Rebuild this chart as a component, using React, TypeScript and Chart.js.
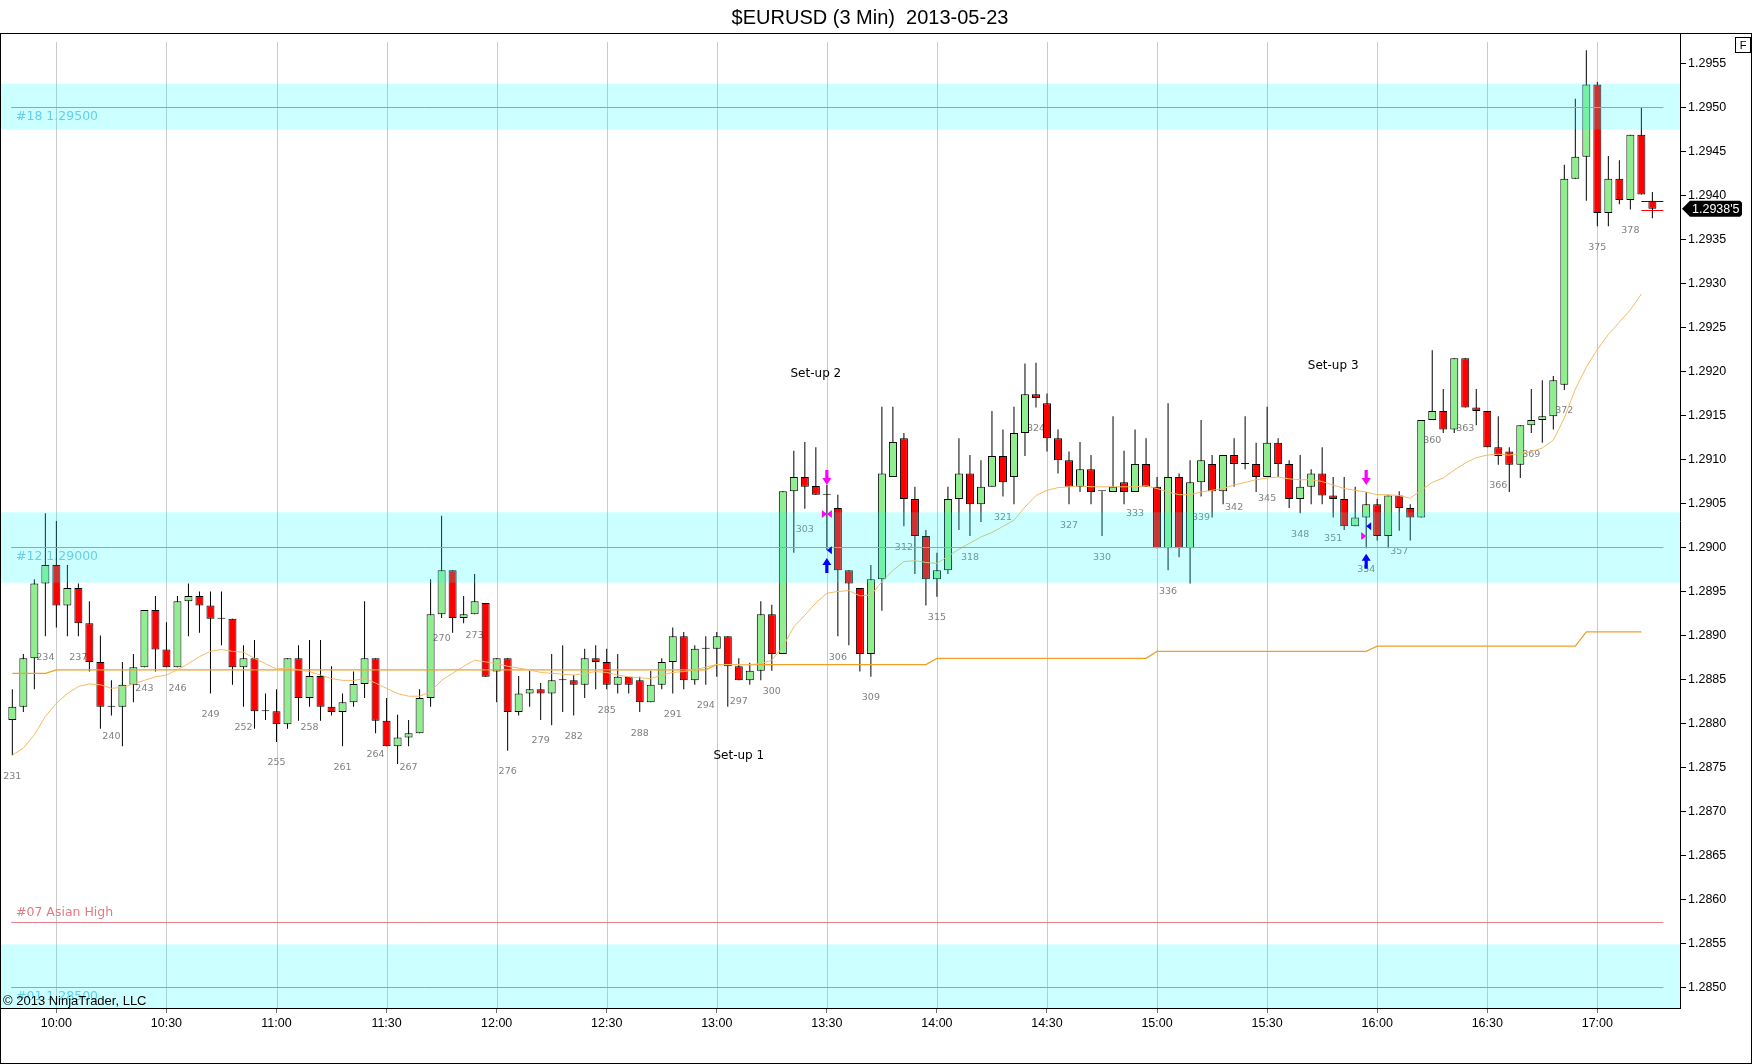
import { useEffect, useRef } from "react";
import { Chart, registerables } from "chart.js";

Chart.register(...registerables);

// 3 minute EURUSD bars, numbered 231 .. 380
const firstBar = 231;

const open = [
  1.28804, 1.28819, 1.28874, 1.28959, 1.28980, 1.28934, 1.28954, 1.28914, 1.28870, 1.28819,
  1.28819, 1.28844, 1.28864, 1.28929, 1.28884, 1.28864, 1.28939, 1.28945, 1.28934, 1.28919,
  1.28919, 1.28864, 1.28874, 1.28814, 1.28814, 1.28799, 1.28874, 1.28829, 1.28854, 1.28819,
  1.28813, 1.28824, 1.28845, 1.28874, 1.28803, 1.28774, 1.28784, 1.28789, 1.28829, 1.28924,
  1.28974, 1.28920, 1.28924, 1.28937, 1.28859, 1.28874, 1.28813, 1.28834, 1.28839, 1.28834,
  1.28849, 1.28849, 1.28844, 1.28874, 1.28870, 1.28844, 1.28853, 1.28849, 1.28824, 1.28844,
  1.28870, 1.28899, 1.28849, 1.28885, 1.28885, 1.28899, 1.28865, 1.28849, 1.28860, 1.28924,
  1.28879, 1.29064, 1.29080, 1.29070, 1.29060, 1.29045, 1.28974, 1.28954, 1.28879, 1.28964,
  1.29080, 1.29124, 1.29055, 1.29013, 1.28964, 1.28974, 1.29055, 1.29084, 1.29049, 1.29069,
  1.29104, 1.29080, 1.29130, 1.29174, 1.29164, 1.29124, 1.29099, 1.29069, 1.29089, 1.29064,
  1.29063, 1.29074, 1.29063, 1.29095, 1.29069, 1.28999, 1.29080, 1.28999, 1.29074, 1.29095,
  1.29064, 1.29105, 1.29095, 1.29095, 1.29080, 1.29119, 1.29095, 1.29055, 1.29069, 1.29084,
  1.29059, 1.29055, 1.29024, 1.29034, 1.29049, 1.29013, 1.29059, 1.29045, 1.29034, 1.29145,
  1.29155, 1.29134, 1.29215, 1.29159, 1.29155, 1.29114, 1.29109, 1.29094, 1.29139, 1.29145,
  1.29149, 1.29185, 1.29419, 1.29444, 1.29526, 1.29380, 1.29419, 1.29395, 1.29469, 1.29394,
];

const high = [
  1.28839, 1.28879, 1.28964, 1.29039, 1.29030, 1.28980, 1.28959, 1.28939, 1.28900, 1.28849,
  1.28870, 1.28879, 1.28929, 1.28945, 1.28915, 1.28945, 1.28959, 1.28950, 1.28950, 1.28950,
  1.28919, 1.28889, 1.28895, 1.28834, 1.28839, 1.28874, 1.28889, 1.28895, 1.28895, 1.28865,
  1.28834, 1.28859, 1.28939, 1.28874, 1.28829, 1.28810, 1.28804, 1.28839, 1.28964, 1.29036,
  1.28974, 1.28945, 1.28970, 1.28937, 1.28874, 1.28874, 1.28854, 1.28860, 1.28846, 1.28879,
  1.28889, 1.28855, 1.28885, 1.28889, 1.28885, 1.28879, 1.28853, 1.28853, 1.28860, 1.28874,
  1.28909, 1.28904, 1.28889, 1.28899, 1.28904, 1.28899, 1.28874, 1.28869, 1.28939, 1.28935,
  1.29064, 1.29110, 1.29120, 1.29114, 1.29071, 1.29060, 1.28974, 1.28954, 1.28980, 1.29160,
  1.29160, 1.29130, 1.29069, 1.29020, 1.28994, 1.29069, 1.29124, 1.29105, 1.29099, 1.29155,
  1.29134, 1.29160, 1.29209, 1.29210, 1.29175, 1.29134, 1.29109, 1.29120, 1.29105, 1.29064,
  1.29149, 1.29110, 1.29134, 1.29124, 1.29080, 1.29164, 1.29084, 1.29099, 1.29145, 1.29105,
  1.29105, 1.29124, 1.29149, 1.29119, 1.29160, 1.29124, 1.29099, 1.29105, 1.29089, 1.29114,
  1.29080, 1.29080, 1.29069, 1.29063, 1.29055, 1.29059, 1.29064, 1.29049, 1.29145, 1.29224,
  1.29180, 1.29215, 1.29215, 1.29180, 1.29155, 1.29149, 1.29114, 1.29139, 1.29180, 1.29190,
  1.29195, 1.29435, 1.29510, 1.29565, 1.29529, 1.29445, 1.29440, 1.29469, 1.29500, 1.29404,
];

const low = [
  1.28764, 1.28813, 1.28839, 1.28899, 1.28909, 1.28899, 1.28899, 1.28859, 1.28794, 1.28809,
  1.28774, 1.28824, 1.28864, 1.28859, 1.28864, 1.28864, 1.28899, 1.28903, 1.28834, 1.28889,
  1.28844, 1.28819, 1.28794, 1.28804, 1.28779, 1.28794, 1.28803, 1.28819, 1.28803, 1.28809,
  1.28774, 1.28819, 1.28829, 1.28789, 1.28774, 1.28754, 1.28774, 1.28789, 1.28819, 1.28920,
  1.28903, 1.28914, 1.28924, 1.28853, 1.28824, 1.28769, 1.28809, 1.28819, 1.28804, 1.28798,
  1.28813, 1.28809, 1.28829, 1.28839, 1.28839, 1.28834, 1.28834, 1.28813, 1.28824, 1.28839,
  1.28834, 1.28839, 1.28844, 1.28844, 1.28853, 1.28819, 1.28849, 1.28844, 1.28849, 1.28860,
  1.28879, 1.28994, 1.29044, 1.29060, 1.28997, 1.28899, 1.28889, 1.28859, 1.28853, 1.28928,
  1.29080, 1.29024, 1.28970, 1.28934, 1.28944, 1.28970, 1.29020, 1.29013, 1.29029, 1.29069,
  1.29058, 1.29049, 1.29104, 1.29159, 1.29109, 1.29084, 1.29049, 1.29063, 1.29049, 1.29013,
  1.29063, 1.29049, 1.29063, 1.29069, 1.28999, 1.28974, 1.28989, 1.28959, 1.29058, 1.29034,
  1.29049, 1.29069, 1.29089, 1.29063, 1.29080, 1.29080, 1.29045, 1.29039, 1.29049, 1.29049,
  1.29034, 1.29020, 1.29024, 1.28999, 1.29008, 1.28999, 1.29019, 1.29008, 1.29034, 1.29145,
  1.29130, 1.29130, 1.29159, 1.29139, 1.29114, 1.29094, 1.29063, 1.29079, 1.29130, 1.29119,
  1.29134, 1.29179, 1.29419, 1.29394, 1.29365, 1.29365, 1.29390, 1.29384, 1.29401, 1.29374,
];

const close = [
  1.28819, 1.28874, 1.28959, 1.28980, 1.28934, 1.28954, 1.28914, 1.28870, 1.28819, 1.28819,
  1.28844, 1.28864, 1.28929, 1.28884, 1.28864, 1.28939, 1.28945, 1.28934, 1.28919, 1.28919,
  1.28864, 1.28874, 1.28814, 1.28814, 1.28799, 1.28874, 1.28829, 1.28854, 1.28819, 1.28813,
  1.28824, 1.28845, 1.28874, 1.28803, 1.28774, 1.28784, 1.28789, 1.28829, 1.28924, 1.28974,
  1.28920, 1.28924, 1.28939, 1.28853, 1.28874, 1.28813, 1.28834, 1.28839, 1.28834, 1.28849,
  1.28849, 1.28844, 1.28874, 1.28870, 1.28844, 1.28853, 1.28844, 1.28824, 1.28844, 1.28870,
  1.28899, 1.28849, 1.28885, 1.28885, 1.28899, 1.28865, 1.28849, 1.28860, 1.28924, 1.28879,
  1.29064, 1.29080, 1.29069, 1.29060, 1.29060, 1.28974, 1.28959, 1.28879, 1.28964, 1.29084,
  1.29120, 1.29055, 1.29013, 1.28964, 1.28974, 1.29055, 1.29084, 1.29049, 1.29069, 1.29104,
  1.29074, 1.29130, 1.29174, 1.29170, 1.29124, 1.29099, 1.29069, 1.29089, 1.29063, 1.29064,
  1.29069, 1.29063, 1.29095, 1.29069, 1.28999, 1.29080, 1.28999, 1.29074, 1.29099, 1.29064,
  1.29105, 1.29095, 1.29095, 1.29080, 1.29119, 1.29095, 1.29055, 1.29069, 1.29084, 1.29059,
  1.29055, 1.29024, 1.29034, 1.29049, 1.29013, 1.29059, 1.29045, 1.29034, 1.29145, 1.29155,
  1.29134, 1.29215, 1.29159, 1.29155, 1.29114, 1.29104, 1.29094, 1.29139, 1.29145, 1.29149,
  1.29190, 1.29419, 1.29444, 1.29526, 1.29380, 1.29419, 1.29395, 1.29469, 1.29401, 1.29385,
];

// fast moving average (thin light orange), not yet printed on the live bar
const ema = [
  1.28764, 1.28772, 1.28787, 1.28808, 1.28823, 1.28834, 1.28842, 1.28845, 1.28844, 1.28840,
  1.28841, 1.28845, 1.28849, 1.28853, 1.28855, 1.28861, 1.28868, 1.28876, 1.28882, 1.28884,
  1.28882, 1.28881, 1.28874, 1.28868, 1.28862, 1.28863, 1.28861, 1.28859, 1.28855, 1.28851,
  1.28849, 1.28849, 1.28851, 1.28846, 1.28840, 1.28834, 1.28831, 1.28831, 1.28836, 1.28849,
  1.28857, 1.28865, 1.28872, 1.28870, 1.28868, 1.28865, 1.28863, 1.28861, 1.28858, 1.28857,
  1.28856, 1.28855, 1.28857, 1.28859, 1.28858, 1.28855, 1.28853, 1.28852, 1.28851, 1.28855,
  1.28858, 1.28859, 1.28861, 1.28864, 1.28867, 1.28867, 1.28867, 1.28867, 1.28868, 1.28872,
  1.28887, 1.28910, 1.28923, 1.28937, 1.28948, 1.28950, 1.28951, 1.28945, 1.28946, 1.28961,
  1.28974, 1.28984, 1.28985, 1.28983, 1.28982, 1.28990, 1.28998, 1.29005, 1.29012, 1.29017,
  1.29024, 1.29031, 1.29046, 1.29059, 1.29065, 1.29068, 1.29069, 1.29070, 1.29069, 1.29069,
  1.29069, 1.29069, 1.29069, 1.29070, 1.29067, 1.29063, 1.29060, 1.29060, 1.29063, 1.29065,
  1.29067, 1.29071, 1.29074, 1.29077, 1.29079, 1.29080, 1.29078, 1.29077, 1.29077, 1.29075,
  1.29071, 1.29067, 1.29065, 1.29063, 1.29060, 1.29060, 1.29059, 1.29056, 1.29065, 1.29074,
  1.29079, 1.29088, 1.29096, 1.29102, 1.29105, 1.29106, 1.29105, 1.29107, 1.29109, 1.29113,
  1.29122, 1.29147, 1.29180, 1.29205, 1.29225, 1.29242, 1.29256, 1.29270, 1.29288, null,
];

// slow stepped average (darker orange): bar where each level starts
const stepFromBars = [231, 235, 295, 315, 335, 355, 374];
const stepLevels = [1.28857, 1.28861, 1.28867, 1.28874, 1.28882, 1.28888, 1.28904];
const stepLastBar = 379;

const timeTickBars = [235, 245, 255, 265, 275, 285, 295, 305, 315, 325, 335, 345, 355, 365, 375];
const timeTickLabels = [
  "10:00", "10:30", "11:00", "11:30", "12:00", "12:30", "13:00", "13:30",
  "14:00", "14:30", "15:00", "15:30", "16:00", "16:30", "17:00",
];

const priceTicks = [
  1.285, 1.2855, 1.286, 1.2865, 1.287, 1.2875, 1.288, 1.2885, 1.289, 1.2895, 1.29,
  1.2905, 1.291, 1.2915, 1.292, 1.2925, 1.293, 1.2935, 1.294, 1.2945, 1.295, 1.2955,
];

// zones drawn by the chart's drawing tools
const bandLabels = ["#18 1.29500", "#12 1.29000", "#01 1.28500"];
const bandCenters = [1.295, 1.29, 1.285];
const bandLows = [1.29475, 1.2896, 1.2845];
const bandHighs = [1.29527, 1.2904, 1.28549];

const lineLabels = ["#07 Asian High"];
const lineLevels = [1.28574];

const setupLabels = ["Set-up 1", "Set-up 2", "Set-up 3"];
const setupBars = [297, 304, 351];
const setupPrices = [1.28763, 1.29197, 1.29206];

// strategy markers
const sellArrowBars = [305, 354];
const sellArrowTips = [1.29071, 1.29071];
const buyArrowBars = [305, 354];
const buyArrowTips = [1.28988, 1.28993];
const magentaRightBars = [305, 354];
const magentaRightPrices = [1.29038, 1.29013];
const magentaLeftBars = [305];
const magentaLeftPrices = [1.29038];
const blueLeftBars = [305, 354];
const blueLeftPrices = [1.28997, 1.29024];

const lastPrice = 1.29385;
const lastPriceText = "1.2938'5";
const askPrice = 1.29394;
const bidPrice = 1.29384;

const bars = open.map((_, i) => firstBar + i);

const stepSeries = bars.map((b) => {
  if (b > stepLastBar) return null;
  let level = stepLevels[0];
  stepFromBars.forEach((s, k) => {
    if (b >= s) level = stepLevels[k];
  });
  return level;
});

const SANS = "'Liberation Sans', Arial, sans-serif";
const VERD = "'DejaVu Sans', Verdana, sans-serif";
const GREEN = "#90ee90";
const RED = "#ff0000";

function drawArrow(ctx: CanvasRenderingContext2D, cx: number, tipY: number, dir: number, color: string) {
  // dir 1: pointing down, -1: pointing up
  const h = 15, head = 7, hw = 4.5, sw = 1.6;
  ctx.fillStyle = color;
  ctx.beginPath();
  ctx.moveTo(cx, tipY);
  ctx.lineTo(cx - hw, tipY - dir * head);
  ctx.lineTo(cx - sw, tipY - dir * head);
  ctx.lineTo(cx - sw, tipY - dir * h);
  ctx.lineTo(cx + sw, tipY - dir * h);
  ctx.lineTo(cx + sw, tipY - dir * head);
  ctx.lineTo(cx + hw, tipY - dir * head);
  ctx.closePath();
  ctx.fill();
}

function drawTriangle(ctx: CanvasRenderingContext2D, tipX: number, cy: number, dir: number, color: string) {
  // dir 1: pointing right (body on the left), -1: pointing left
  ctx.fillStyle = color;
  ctx.beginPath();
  ctx.moveTo(tipX, cy);
  ctx.lineTo(tipX - dir * 5, cy - 4);
  ctx.lineTo(tipX - dir * 5, cy + 4);
  ctx.closePath();
  ctx.fill();
}

const ntPlugin = {
  id: "ntOverlay",
  beforeDatasetsDraw(chart: any) {
    const { ctx, chartArea: a, scales } = chart;
    const x = scales.x, y = scales.y;
    ctx.save();
    ctx.beginPath();
    ctx.rect(a.left, a.top, a.right - a.left, a.bottom - a.top);
    ctx.clip();

    // half-hour grid, starting a little under the frame like the original
    ctx.strokeStyle = "rgb(202,202,202)";
    ctx.lineWidth = 1;
    timeTickBars.forEach((b) => {
      const px = Math.round(x.getPixelForValue(b)) + 0.5;
      ctx.beginPath();
      ctx.moveTo(px, a.top + 8);
      ctx.lineTo(px, a.bottom);
      ctx.stroke();
    });

    const lineStart = x.getPixelForValue(firstBar - 0.1);
    const lineEnd = x.getPixelForValue(bars[bars.length - 1] + 1);

    // plain horizontal lines
    lineLevels.forEach((lv, i) => {
      const py = Math.round(y.getPixelForValue(lv)) + 0.5;
      ctx.strokeStyle = "rgb(228,128,138)";
      ctx.lineWidth = 1;
      ctx.beginPath();
      ctx.moveTo(lineStart, py);
      ctx.lineTo(lineEnd, py);
      ctx.stroke();
      ctx.fillStyle = "rgb(226,122,132)";
      ctx.font = `12.5px ${VERD}`;
      ctx.textAlign = "left";
      ctx.textBaseline = "middle";
      ctx.fillText(lineLabels[i], a.left + 15, py - 10);
    });

    // zone labels (under the zone fill)
    bandCenters.forEach((lv, i) => {
      const py = y.getPixelForValue(lv);
      ctx.fillStyle = "rgb(125,195,228)";
      ctx.font = `12.5px ${VERD}`;
      ctx.textAlign = "left";
      ctx.textBaseline = "middle";
      ctx.fillText(bandLabels[i], a.left + 15, py + 9);
    });

    // bar numbers every third bar, under the low
    ctx.fillStyle = "rgb(128,128,128)";
    ctx.font = `9.5px ${VERD}`;
    ctx.textAlign = "center";
    ctx.textBaseline = "middle";
    bars.forEach((b, i) => {
      if ((b - firstBar) % 3 !== 0) return;
      ctx.fillText(String(b), x.getPixelForValue(b), y.getPixelForValue(low[i]) + 21);
    });

    // set-up notes
    ctx.fillStyle = "#000";
    ctx.font = `12px ${VERD}`;
    setupLabels.forEach((t, i) => {
      ctx.fillText(t, x.getPixelForValue(setupBars[i]), y.getPixelForValue(setupPrices[i]));
    });
    ctx.restore();
  },
  afterDatasetsDraw(chart: any) {
    const { ctx, chartArea: a, scales } = chart;
    const x = scales.x, y = scales.y;
    ctx.save();
    ctx.beginPath();
    ctx.rect(a.left, a.top, a.right - a.left, a.bottom - a.top);
    ctx.clip();

    const lineStart = x.getPixelForValue(firstBar - 0.1);
    const lineEnd = x.getPixelForValue(bars[bars.length - 1] + 1);

    // translucent zones painted over the price bars
    bandCenters.forEach((lv, i) => {
      const top = y.getPixelForValue(bandHighs[i]);
      const bottom = y.getPixelForValue(bandLows[i]);
      ctx.fillStyle = "rgba(0,255,255,0.2)";
      ctx.fillRect(a.left, top, a.right - a.left, bottom - top);
      const py = Math.round(y.getPixelForValue(lv)) + 0.5;
      ctx.strokeStyle = "rgb(105,182,205)";
      ctx.lineWidth = 1;
      ctx.beginPath();
      ctx.moveTo(lineStart, py);
      ctx.lineTo(lineEnd, py);
      ctx.stroke();
    });

    // bid / ask ticks on the live bar
    const lastX = x.getPixelForValue(bars[bars.length - 1]);
    [
      [askPrice, "#0000ff"],
      [bidPrice, "#ff0000"],
    ].forEach(([p, c]) => {
      const py = Math.round(y.getPixelForValue(p as number)) + 0.5;
      ctx.strokeStyle = c as string;
      ctx.beginPath();
      ctx.moveTo(lastX - 11, py);
      ctx.lineTo(lastX + 11, py);
      ctx.stroke();
    });

    // signal markers
    sellArrowBars.forEach((b, i) => drawArrow(ctx, x.getPixelForValue(b), y.getPixelForValue(sellArrowTips[i]), 1, "#ff00ff"));
    buyArrowBars.forEach((b, i) => drawArrow(ctx, x.getPixelForValue(b), y.getPixelForValue(buyArrowTips[i]), -1, "#0000ff"));
    magentaRightBars.forEach((b, i) => drawTriangle(ctx, x.getPixelForValue(b), y.getPixelForValue(magentaRightPrices[i]), 1, "#ff00ff"));
    magentaLeftBars.forEach((b, i) => drawTriangle(ctx, x.getPixelForValue(b), y.getPixelForValue(magentaLeftPrices[i]), -1, "#ff00ff"));
    blueLeftBars.forEach((b, i) => drawTriangle(ctx, x.getPixelForValue(b), y.getPixelForValue(blueLeftPrices[i]), -1, "#0000ff"));

    ctx.fillStyle = "#000";
    ctx.font = `13px ${SANS}`;
    ctx.textAlign = "left";
    ctx.textBaseline = "alphabetic";
    ctx.fillText("\u00a9 2013 NinjaTrader, LLC", a.left + 2, a.bottom - 3);
    ctx.restore();
  },
  afterDraw(chart: any) {
    const { ctx, chartArea: a, scales, width, height } = chart;
    const y = scales.y;
    ctx.save();
    // title
    ctx.fillStyle = "#000";
    ctx.font = `20px ${SANS}`;
    ctx.textAlign = "center";
    ctx.textBaseline = "alphabetic";
    ctx.fillText("$EURUSD (3 Min)  2013-05-23", 870, 24);

    // frame
    ctx.strokeStyle = "#000";
    ctx.lineWidth = 1;
    ctx.strokeRect(0.5, a.top - 0.5, width - 1, height - a.top);

    // "F" button
    ctx.strokeRect(width - 16.5, a.top + 3.5, 15, 15);
    ctx.font = `11px ${SANS}`;
    ctx.textAlign = "center";
    ctx.textBaseline = "middle";
    ctx.fillText("F", width - 9, a.top + 11.5);

    // last price flag
    const py = y.getPixelForValue(lastPrice);
    const tip = a.right + 2;
    ctx.fillStyle = "#000";
    ctx.beginPath();
    ctx.moveTo(tip, py);
    ctx.lineTo(tip + 8, py - 8);
    ctx.lineTo(tip + 58, py - 8);
    ctx.lineTo(tip + 60, py - 6);
    ctx.lineTo(tip + 60, py + 6);
    ctx.lineTo(tip + 58, py + 8);
    ctx.lineTo(tip + 8, py + 8);
    ctx.closePath();
    ctx.fill();
    ctx.fillStyle = "#fff";
    ctx.font = `12.5px ${SANS}`;
    ctx.textAlign = "left";
    ctx.textBaseline = "middle";
    ctx.fillText(lastPriceText, tip + 10, py + 0.5);
    ctx.restore();
  },
};

export default function App() {
  const canvasRef = useRef<HTMLCanvasElement | null>(null);
  const chartRef = useRef<Chart | null>(null);

  useEffect(() => {
    document.body.style.margin = "0";
    document.body.style.overflow = "hidden";
    if (!canvasRef.current) return;
    const ctx = canvasRef.current.getContext("2d");
    if (!ctx) return;
    if (chartRef.current) chartRef.current.destroy();

    chartRef.current = new Chart(ctx, {
      type: "bar",
      data: {
        datasets: [
          {
            type: "line",
            label: "fast average",
            data: bars.map((b, i) => ({ x: b, y: ema[i] })),
            borderColor: "rgb(246,186,98)",
            borderWidth: 1,
            pointRadius: 0,
            tension: 0,
            order: 1,
          },
          {
            type: "line",
            label: "slow average",
            data: bars.map((b, i) => ({ x: b, y: stepSeries[i] })),
            borderColor: "rgb(240,160,40)",
            borderWidth: 1.3,
            pointRadius: 0,
            tension: 0,
            order: 2,
          },
          {
            type: "bar",
            label: "body",
            data: bars.map((b, i) => ({ x: b, y: [open[i], close[i]] })),
            backgroundColor: bars.map((_, i) => (close[i] >= open[i] ? GREEN : RED)),
            borderColor: "#000",
            borderWidth: 1,
            borderSkipped: false,
            barThickness: 8,
            minBarLength: 1,
            inflateAmount: 0,
            grouped: false,
            order: 3,
          },
          {
            type: "bar",
            label: "wick",
            data: bars.map((b, i) => ({ x: b, y: [low[i], high[i]] })),
            backgroundColor: "#000",
            borderWidth: 0,
            barThickness: 1,
            inflateAmount: 0,
            grouped: false,
            order: 4,
          },
        ] as any,
      },
      options: {
        responsive: false,
        animation: false,
        events: [],
        layout: { padding: { top: 34, left: 1, right: 0, bottom: 0 } },
        plugins: {
          legend: { display: false },
          tooltip: { enabled: false },
          title: { display: false },
        },
        scales: {
          x: {
            type: "linear",
            min: 229.97,
            max: 382.51,
            offset: false,
            afterFit: (s: any) => {
              s.height = 56;
            },
            afterBuildTicks: (s: any) => {
              s.ticks = timeTickBars.map((v) => ({ value: v }));
            },
            grid: {
              offset: false,
              drawOnChartArea: false,
              drawTicks: true,
              tickLength: 5,
              tickColor: "rgb(110,110,110)",
            },
            border: { display: true, color: "#000" },
            ticks: {
              autoSkip: false,
              maxRotation: 0,
              padding: 3,
              color: "#000",
              font: { family: SANS, size: 12.5 },
              callback: (v: any) => timeTickLabels[timeTickBars.indexOf(Number(v))],
            },
          },
          y: {
            type: "linear",
            position: "right",
            min: 1.284767,
            max: 1.295835,
            afterFit: (s: any) => {
              s.width = 72;
            },
            afterBuildTicks: (s: any) => {
              s.ticks = priceTicks.map((v) => ({ value: v }));
            },
            grid: {
              drawOnChartArea: false,
              drawTicks: true,
              tickLength: 6,
              tickColor: "#000",
            },
            border: { display: true, color: "#000" },
            ticks: {
              padding: 2,
              color: "#000",
              font: { family: SANS, size: 12.5 },
              callback: (v: any) => Number(v).toFixed(4),
            },
          },
        },
      },
      plugins: [ntPlugin],
    });

    return () => {
      if (chartRef.current) {
        chartRef.current.destroy();
        chartRef.current = null;
      }
    };
  }, []);

  return (
    <div style={{ width: 1752, height: 1064, background: "#fff" }}>
      <canvas ref={canvasRef} width={1752} height={1064} style={{ display: "block" }} />
    </div>
  );
}
